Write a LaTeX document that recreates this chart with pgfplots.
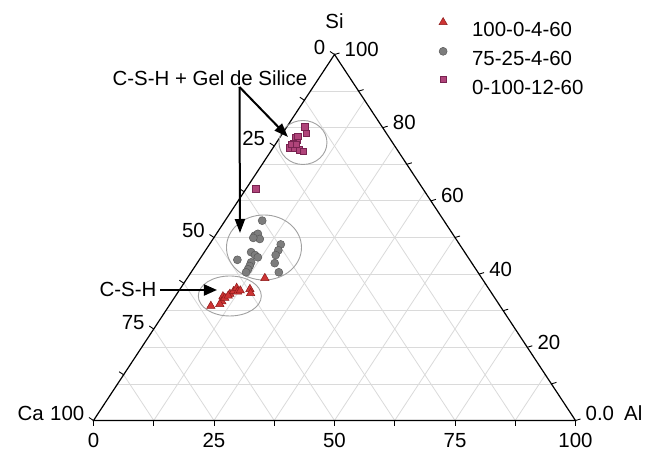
\documentclass[border=0pt]{standalone}
\usepackage{fontspec}
\setmainfont{Liberation Sans}
\usepackage{pgfplots}
\pgfplotsset{compat=1.18}
\usepackage{pgfplotstable}
\usetikzlibrary{arrows.meta}

\definecolor{gridgray}{RGB}{218,218,218}
\definecolor{ringgray}{RGB}{160,160,160}
\definecolor{trifill}{RGB}{205,52,52}
\definecolor{triedge}{RGB}{140,25,25}
\definecolor{circfill}{RGB}{125,125,125}
\definecolor{circedge}{RGB}{90,90,90}
\definecolor{sqfill}{RGB}{176,68,122}
\definecolor{sqedge}{RGB}{120,35,80}

% Compositions in atomic percent: Al and Si (Ca = 100 - Al - Si)
\pgfplotstableread{
Al   Si
8.7  31.3
9.9  33.9
10.4 32.5
10.3 31.8
10.5 33.5
11.0 34.6
10.9 34.1
11.4 35.3
11.6 36.2
12.3 35.2
12.7 35.5
14.5 35.9
15.2 34.8
16.1 38.9
}\serieA

\pgfplotstableread{
Al   Si
7.7  54.6
8.2  50.5
8.6  51.0
9.7  49.6
8.2  49.9
14.8 48.1
15.1 46.5
15.2 45.2
16.1 43.0
18.2 40.5
9.7  46.0
10.9 45.2
11.8 44.6
11.1 43.2
11.3 42.2
11.4 41.3
11.4 40.5
7.9  43.9
}\serieB

\pgfplotstableread{
Al  Si
3.7 80.3
4.9 78.5
3.2 77.2
4.0 76.5
3.5 75.8
3.5 74.5
4.5 74.5
5.7 74.0
6.7 73.6
3.4 75.4
4.4 75.4
3.6 77.6
2.0 63.3
}\serieC

\begin{document}
\begin{tikzpicture}[font=\fontsize{20.5}{24}\selectfont]
\path[use as bounding box] (-93.5bp,-31.5bp) rectangle (566.5bp,420.5bp);
\begin{axis}[
  at={(0,0)}, anchor=south west,
  scale only axis, width=482bp, height=366bp,
  xmin=0, xmax=100, ymin=0, ymax=100,
  hide axis, clip=false,
  legend style={at={(axis cs:71.5,110.1)}, anchor=north west,
    draw=none, fill=none, inner sep=0pt, outer sep=0pt,
    row sep=10.5bp, column sep=0pt,
    nodes={inner sep=0pt, text height=15bp, text depth=0bp},
    font=\fontsize{20.5}{24}\selectfont},
  legend cell align=left,
  legend image code/.code={
    \path[draw=none] (0bp,0bp) -- (34bp,0bp);
    \draw[#1] plot coordinates {(5bp,7bp)};
  },
]
% ternary grid: constant Si (every 10), constant Al and Ca (every 12.5)
\pgfplotsinvokeforeach{10,20,...,90}{
  \draw[gridgray, line width=0.8bp] (axis cs:{#1/2},#1) -- (axis cs:{100-#1/2},#1);
}
\pgfplotsinvokeforeach{12.5,25,...,87.5}{
  \draw[gridgray, line width=0.8bp] (axis cs:#1,0) -- (axis cs:{(100+#1)/2},{100-#1});
  \draw[gridgray, line width=0.8bp] (axis cs:#1,0) -- (axis cs:{#1/2},#1);
}
% frame
\draw[black, line width=1.2bp, line join=miter] (axis cs:0,0) -- (axis cs:100,0) -- (axis cs:50,100) -- cycle;
% ticks
\pgfplotsinvokeforeach{0,12.5,...,100}{
  \draw[black, line width=0.9bp] (axis cs:#1,0) -- ++(0bp,-5bp);
  \draw[black, line width=0.9bp] (axis cs:{#1/2},#1) -- ++(-4.5bp,3bp);
}
\pgfplotsinvokeforeach{0,10,...,100}{
  \draw[black, line width=0.9bp] (axis cs:{100-#1/2},#1) -- ++(5bp,1.5bp);
}
% bottom axis labels (Al)
\pgfplotsinvokeforeach{0,25,50,75,100}{
  \node[anchor=base, inner sep=0pt] at (axis cs:#1,0) [yshift=-26.5bp] {#1};
}
% left axis labels (Ca)
\pgfplotsinvokeforeach{0,25,50,75,100}{
  \node[anchor=base east, inner sep=0pt] at (axis cs:{(100-#1)/2},{100-#1}) [xshift=-9bp] {#1};
}
% right axis labels (Si)
\node[anchor=base west, inner sep=0pt] at (axis cs:100,0) [xshift=10bp] {0.0};
\pgfplotsinvokeforeach{20,40,60,80,100}{
  \node[anchor=base west, inner sep=0pt] at (axis cs:{100-#1/2},#1) [xshift=10bp, yshift=-2bp] {#1};
}
% vertex names
\node[anchor=base, inner sep=0pt] at (axis cs:50,107.16) {Si};
\node[anchor=base east, inner sep=0pt] at (axis cs:0,0) [xshift=-49.5bp] {Ca};
\node[anchor=base west, inner sep=0pt] at (axis cs:100,0) [xshift=48.5bp] {Al};

% groups
\draw[ringgray, line width=0.9bp] (axis cs:43.46,75.96) ellipse [x radius=24bp, y radius=22bp];
\draw[ringgray, line width=0.9bp] (axis cs:35.37,47.27) ellipse [x radius=37.5bp, y radius=32.5bp];
\draw[ringgray, line width=0.9bp] (axis cs:28.28,34.02) ellipse [x radius=31.5bp, y radius=20bp];

\addplot[only marks, mark=triangle*, mark size=4.8bp, color=triedge,
  mark options={fill=trifill, line width=0.5bp}]
  table[x expr=\thisrow{Al}+0.5*\thisrow{Si}, y=Si]{\serieA};
\addlegendentry{100-0-4-60}
\addplot[only marks, mark=*, mark size=4bp, color=circedge,
  mark options={fill=circfill, line width=0.5bp}]
  table[x expr=\thisrow{Al}+0.5*\thisrow{Si}, y=Si]{\serieB};
\addlegendentry{75-25-4-60}
\addplot[only marks, mark=square*, mark size=3.2bp, color=sqedge,
  mark options={fill=sqfill, line width=0.5bp}]
  table[x expr=\thisrow{Al}+0.5*\thisrow{Si}, y=Si]{\serieC};
\addlegendentry{0-100-12-60}

% annotations
\node[anchor=base, inner sep=0pt] at (axis cs:24.17,91.66) {C-S-H + Gel de Silice};
\node[anchor=base, inner sep=0pt] at (axis cs:7.16,33.8) {C-S-H};
\draw[black, line width=2bp, -{Triangle[length=14bp,width=10bp]}] (axis cs:30.29,91.12) -- (axis cs:40.35,77.46);
\draw[black, line width=2bp, -{Triangle[length=14bp,width=10bp]}] (axis cs:30.29,91.12) -- (axis cs:30.39,51.23);
\draw[black, line width=2bp, -{Triangle[length=13bp,width=11bp]}] (axis cs:13.80,35.66) -- (axis cs:25.62,35.66);
\end{axis}
\end{tikzpicture}
\end{document}
